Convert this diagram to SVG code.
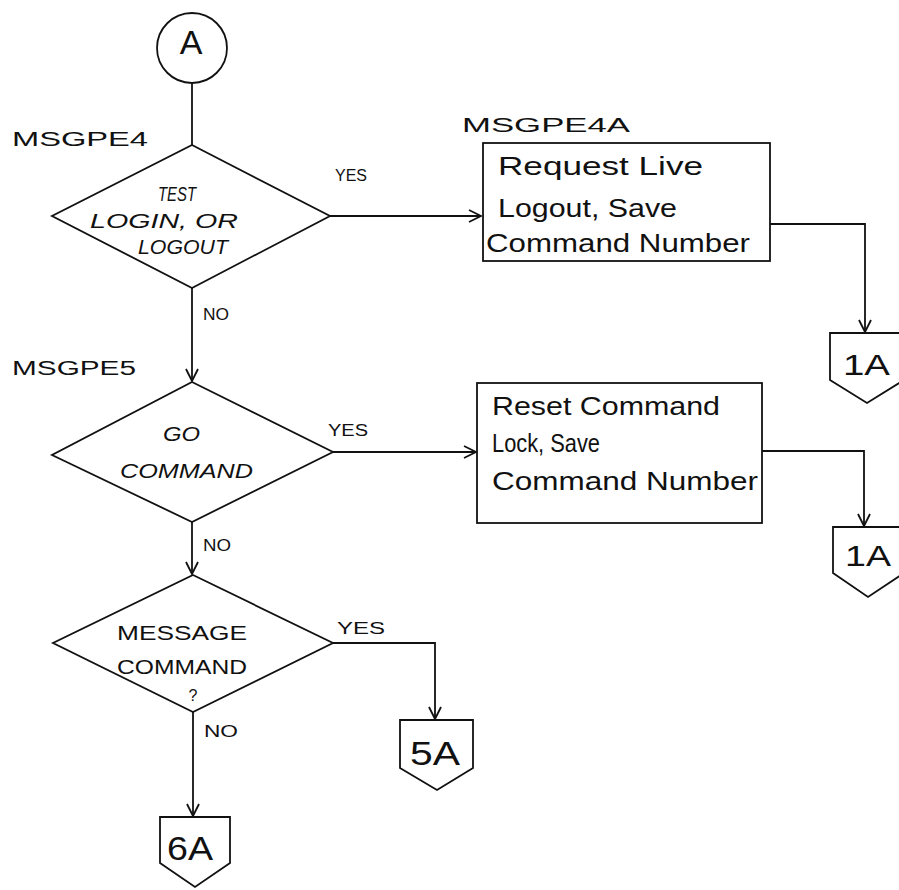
<svg xmlns="http://www.w3.org/2000/svg" width="899" height="890" viewBox="0 0 899 890">
<defs>
<marker id="ah" viewBox="0 0 14 14" refX="13" refY="7" markerWidth="14" markerHeight="14" markerUnits="userSpaceOnUse" orient="auto">
<path d="M1,1 L13,7 L1,13" fill="none" stroke="#111" stroke-width="1.8"/>
</marker>
<style>
.s{fill:#fff;stroke:#111;stroke-width:1.8}
.c{fill:none;stroke:#111;stroke-width:1.8}
.t{font-family:"Liberation Sans",Arial,sans-serif;fill:#111}
.m{text-anchor:middle}
.lb{font-size:16px}
.nm{font-size:20px}
.bx{font-size:25px}
.dm{font-size:21px}
.it{font-style:italic}
</style>
</defs>
<rect width="899" height="890" fill="#fff"/>
<g id="connectors">
<path class="c" d="M192,83 V145"/>
<path class="c" d="M330,216 H481" marker-end="url(#ah)"/>
<path class="c" d="M770,224 H865 V332" marker-end="url(#ah)"/>
<path class="c" d="M192,288 V381" marker-end="url(#ah)"/>
<path class="c" d="M333,452 H476" marker-end="url(#ah)"/>
<path class="c" d="M762,451 H864 V526" marker-end="url(#ah)"/>
<path class="c" d="M192,522 V574" marker-end="url(#ah)"/>
<path class="c" d="M333,643 H435 V719" marker-end="url(#ah)"/>
<path class="c" d="M193,712 V816" marker-end="url(#ah)"/>
<text class="t lb" x="335" y="181" textLength="32" lengthAdjust="spacingAndGlyphs">YES</text>
<text class="t lb" x="203" y="320" textLength="26" lengthAdjust="spacingAndGlyphs">NO</text>
<text class="t lb" x="328" y="436" textLength="40" lengthAdjust="spacingAndGlyphs">YES</text>
<text class="t lb" x="203" y="551" textLength="28" lengthAdjust="spacingAndGlyphs">NO</text>
<text class="t lb" x="337" y="634" textLength="48" lengthAdjust="spacingAndGlyphs">YES</text>
<text class="t lb" x="204" y="737" textLength="34" lengthAdjust="spacingAndGlyphs">NO</text>
</g>
<g id="start">
<circle class="s" cx="192" cy="48" r="35"/>
<text class="t m" x="191" y="54" font-size="34">A</text>
</g>
<g id="d1">
<text class="t nm" x="12" y="146" textLength="136" lengthAdjust="spacingAndGlyphs">MSGPE4</text>
<polygon class="s" points="192,145 330,216 192,288 52,216"/>
<text class="t dm it" x="158" y="201" textLength="38" lengthAdjust="spacingAndGlyphs">TEST</text>
<text class="t dm it" x="90" y="228" textLength="148" lengthAdjust="spacingAndGlyphs">LOGIN, OR</text>
<text class="t dm it" x="138" y="254" textLength="90" lengthAdjust="spacingAndGlyphs">LOGOUT</text>
</g>
<g id="b1">
<text class="t nm" x="462" y="132" textLength="168" lengthAdjust="spacingAndGlyphs">MSGPE4A</text>
<rect class="s" x="483" y="143" width="287" height="118"/>
<text class="t bx" x="498" y="175" textLength="205" lengthAdjust="spacingAndGlyphs">Request Live</text>
<text class="t bx" x="498" y="217" textLength="179" lengthAdjust="spacingAndGlyphs">Logout, Save</text>
<text class="t bx" x="486" y="252" textLength="264" lengthAdjust="spacingAndGlyphs">Command Number</text>
</g>
<g id="c1a">
<polygon class="s" points="830,333 904,333 904,380 867,403 830,380"/>
<text class="t" x="843" y="375" font-size="30" textLength="47" lengthAdjust="spacingAndGlyphs">1A</text>
</g>
<g id="d2">
<text class="t nm" x="12" y="375" textLength="124" lengthAdjust="spacingAndGlyphs">MSGPE5</text>
<polygon class="s" points="192,382 333,452 192,522 52,455"/>
<text class="t dm it" x="163" y="441" textLength="37" lengthAdjust="spacingAndGlyphs">GO</text>
<text class="t dm it" x="120" y="478" textLength="133" lengthAdjust="spacingAndGlyphs">COMMAND</text>
</g>
<g id="b2">
<rect class="s" x="477" y="383" width="285" height="140"/>
<text class="t bx" x="492" y="415" textLength="228" lengthAdjust="spacingAndGlyphs">Reset Command</text>
<text class="t bx" x="492" y="452" textLength="108" lengthAdjust="spacingAndGlyphs">Lock, Save</text>
<text class="t bx" x="492" y="490" textLength="266" lengthAdjust="spacingAndGlyphs">Command Number</text>
</g>
<g id="c1b">
<polygon class="s" points="833,527 904,527 904,573 868,597 833,573"/>
<text class="t" x="845" y="566" font-size="30" textLength="46" lengthAdjust="spacingAndGlyphs">1A</text>
</g>
<g id="d3">
<polygon class="s" points="193,575 333,643 193,712 53,643"/>
<text class="t dm" x="117" y="640" textLength="130" lengthAdjust="spacingAndGlyphs">MESSAGE</text>
<text class="t dm" x="117" y="674" textLength="130" lengthAdjust="spacingAndGlyphs">COMMAND</text>
<text class="t m" x="193" y="701" font-size="16">?</text>
</g>
<g id="c5a">
<polygon class="s" points="400,720 473,720 473,768 437,790 400,768"/>
<text class="t" x="410" y="765" font-size="33" textLength="50" lengthAdjust="spacingAndGlyphs">5A</text>
</g>
<g id="c6a">
<polygon class="s" points="160,817 230,817 230,863 195,887 160,863"/>
<text class="t" x="167" y="860" font-size="33" textLength="46" lengthAdjust="spacingAndGlyphs">6A</text>
</g>
</svg>
